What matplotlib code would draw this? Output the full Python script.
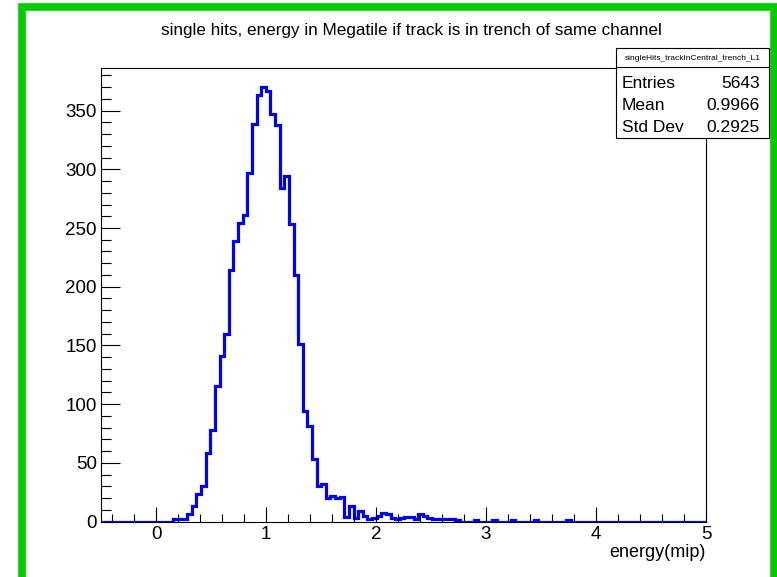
import numpy as np
import matplotlib
matplotlib.use("Agg")
import matplotlib.pyplot as plt
from matplotlib.patches import Rectangle
from matplotlib.lines import Line2D
from matplotlib.ticker import MultipleLocator

plt.rcParams['font.family'] = ['Liberation Sans', 'DejaVu Sans']

# ---- data ----
title = "single hits, energy in Megatile if track is in trench of same channel"
x_label = "energy(mip)"
hist_name = "singleHits_trackInCentral_trench_L1"
stats_labels = ["Entries", "Mean", "Std Dev"]
stats_values = ["5643", "0.9966", "0.2925"]

bin_start = -0.514
bin_width = 0.042
# counts per bin, starting at bin_start
counts = [0] * 16 + [
    2, 2, 2, 6, 13, 23, 30, 58, 78, 115,
    141, 160, 214, 239, 254, 261, 297, 339, 363, 370,
    367, 347, 338, 284, 294, 253, 210, 151, 94, 81,
    53, 30, 32, 20, 22, 20, 21, 4, 13,
    3, 9, 5, 2, 3, 5, 7, 6, 3, 2,
    3, 4, 4, 2, 6, 5, 3, 2, 2, 2,
    2, 2, 1, 0, 0, 0, 1, 0, 0, 0,
    1, 0, 0, 0, 1, 0, 0, 0, 0, 1,
    0, 0, 0, 0, 0, 0, 1,
]
counts = counts + [0] * (132 - len(counts))
counts = np.array(counts, dtype=float)
edges = bin_start + bin_width * np.arange(len(counts) + 1)

x_range = (-0.5, 5.0)
y_range = (0, 386.3)

# ---- figure ----
W, H = 777, 577
fig = plt.figure(figsize=(W / 100, H / 100), dpi=100)

def fx(px):
    return px / W

def fy(py):
    return 1 - py / H

# green frame (open at the bottom edge of the picture)
green = '#00cc00'
fig.add_artist(Rectangle((fx(21.5), fy(600)), fx(752), (600 - 6.5) / H,
                         transform=fig.transFigure, facecolor='none',
                         edgecolor=green, linewidth=5.5, zorder=0))

ax = fig.add_axes([fx(101), fy(521.5), fx(706 - 101), (521.5 - 68) / H])
ax.stairs(counts, edges, color='#0000ff', linewidth=2.3, baseline=0)
ax.set_xlim(*x_range)
ax.set_ylim(*y_range)

ax.xaxis.set_major_locator(MultipleLocator(1))
ax.xaxis.set_minor_locator(MultipleLocator(0.2))
ax.yaxis.set_major_locator(MultipleLocator(50))
ax.yaxis.set_minor_locator(MultipleLocator(10))
ax.tick_params(axis='both', which='both', direction='in', top=False, right=False,
               labelsize=13.5, color='black', width=0.8)
ax.tick_params(axis='x', which='major', length=10.5, pad=3)
ax.tick_params(axis='x', which='minor', length=5.5)
ax.tick_params(axis='y', which='major', length=13.5, pad=3)
ax.tick_params(axis='y', which='minor', length=7)
for s in ax.spines.values():
    s.set_linewidth(0.8)

ax.set_xlabel(x_label, fontsize=13, loc='right', labelpad=1)

fig.text(fx(411), fy(31), title, ha='center', va='center', fontsize=12.3)

# stats box
bx0, by0, bx1, by1 = 616, 48.5, 769, 138
fig.add_artist(Rectangle((fx(bx0), fy(by1)), fx(bx1 - bx0), (by1 - by0) / H,
                         transform=fig.transFigure, facecolor='white',
                         edgecolor='black', linewidth=0.8, zorder=5))
fig.add_artist(Line2D([fx(bx0), fx(bx1)], [fy(67), fy(67)],
                      transform=fig.transFigure, color='black',
                      linewidth=0.8, zorder=6))
fig.text(fx((bx0 + bx1) / 2), fy(58), hist_name, ha='center', va='center',
         fontsize=6, zorder=7)
row_y = [83, 105, 128]
for lab, val, yy in zip(stats_labels, stats_values, row_y):
    fig.text(fx(622), fy(yy), lab, ha='left', va='center', fontsize=12.5, zorder=7)
    fig.text(fx(760), fy(yy), val, ha='right', va='center', fontsize=12.5, zorder=7)

fig.savefig("out.png", dpi=100)
